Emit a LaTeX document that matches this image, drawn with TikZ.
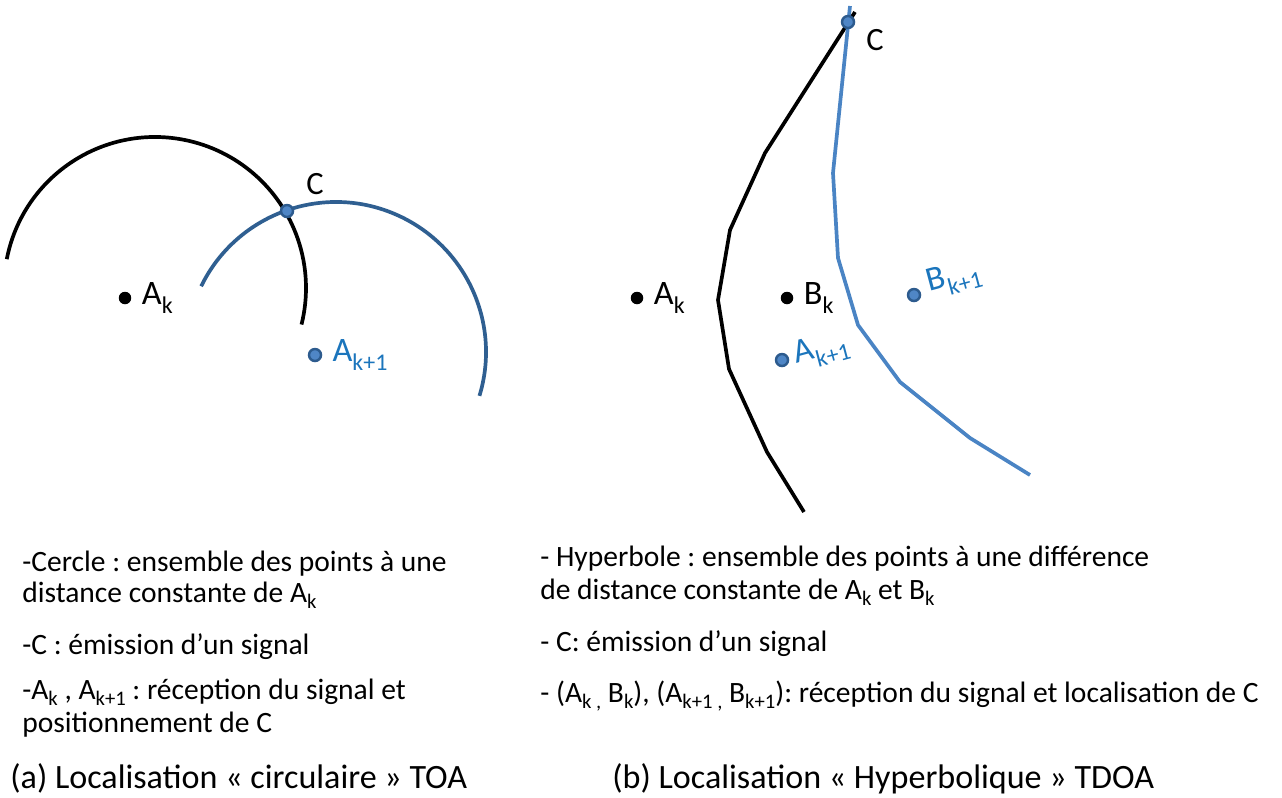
\documentclass[tikz,border=0pt]{standalone}
\usepackage{fontspec}
\setmainfont{Carlito}
\frenchspacing
\usetikzlibrary{positioning}
\definecolor{arcblue}{HTML}{2F5F91}
\definecolor{hypblue}{HTML}{4A84C4}
\definecolor{txtblue}{HTML}{1B75BC}
\definecolor{dotblue}{HTML}{2D5B8E}
\definecolor{dotlight}{HTML}{4F86C6}
\newcommand{\idx}[1]{\raisebox{-0.28em}{\scalebox{0.7}{#1}}}
\newcommand{\tidx}[1]{\raisebox{-0.22em}{\scalebox{0.7}{#1}}}
\tikzset{
  pt/.style={circle, fill=black, inner sep=0pt, minimum size=0.25cm},
  bpt/.style={circle, draw=dotblue, fill=dotlight, line width=1.4pt, inner sep=0pt, minimum size=0.24cm},
  lbl/.style={font=\fontsize{19.5}{23}\selectfont, inner sep=0pt},
  clbl/.style={font=\fontsize{18.5}{22}\selectfont, inner sep=0pt},
  txt/.style={anchor=base west, inner sep=0pt, font=\fontsize{16.8}{20}\selectfont},
  capt/.style={anchor=base west, inner sep=0pt, font=\fontsize{19.4}{23}\selectfont},
  curve/.style={line width=2.1pt}
}

\begin{document}
\begin{tikzpicture}[x=0.02cm, y=-0.02cm]
\useasboundingbox (0,0) rectangle (1282,798);

% (a) circles
\draw[curve, black] (155,288) ++(191:151) arc[start angle=191, end angle=374, radius=151];
\draw[curve, arcblue] (336,352) ++(206:150) arc[start angle=206, end angle=377, radius=150];
\node[pt] (Aka) at (125,298) {};
\node[lbl, right=0.2cm of Aka] (lAka) {A\idx{k}};
\node[bpt] (Ca) at (287,211) {};
\node[clbl] (lCa) at (315,184) {C};
\node[bpt] (Akoa) at (315,355) {};
\node[lbl, txtblue, right=0.2cm of Akoa] (lAkoa) {A\idx{k+1}};

% (b) hyperbolas
\draw[curve, black] (855,12) -- (765,153) -- (730,230) -- (718,300) -- (729,369) -- (767,452) -- (804,512);
\draw[curve, hypblue] (850,6) -- (833,173) -- (838,258) -- (858,325) -- (900,382) -- (970,438) -- (1030,475);
\node[pt] (Akb) at (637,298) {};
\node[lbl, right=0.2cm of Akb] (lAkb) {A\idx{k}};
\node[pt] (Bk) at (787,298) {};
\node[lbl, right=0.2cm of Bk] (lBk) {B\idx{k}};
\node[bpt] (Cb) at (848,22) {};
\node[clbl] (lCb) at (875,40) {C};
\node[bpt] (Akob) at (782,360) {};
\node[lbl, txtblue, rotate=15, anchor=south west] (lAkob) at (799,373) {A\idx{k+1}};
\node[bpt] (Bkob) at (914,295) {};
\node[lbl, txtblue, rotate=15, anchor=south west] (lBkob) at (932,301) {B\idx{k+1}};

% legends
\node[txt] (ta1) at (22,571) {-Cercle : ensemble des points à une};
\node[txt] (ta2) at (22,602) {distance constante de A\tidx{k}};
\node[txt] (ta3) at (22,654) {-C : émission d’un signal};
\node[txt] (ta4) at (22,699) {-A\tidx{k} , A\tidx{k+1} : réception du signal et};
\node[txt] (ta5) at (22,732) {positionnement de C};
\node[capt] (capa) at (10,788) {(a) Localisation « circulaire » TOA};

\node[txt] (tb1) at (540,566) {- Hyperbole : ensemble des points à une différence};
\node[txt] (tb2) at (540,599) {de distance constante de A\tidx{k} et B\tidx{k}};
\node[txt] (tb3) at (540,651) {- C: émission d’un signal};
\node[txt] (tb4) at (540,702) {- (A\tidx{k ,} B\tidx{k}), (A\tidx{k+1 ,} B\tidx{k+1}): réception du signal et localisation de C};
\node[capt] (capb) at (612,788) {(b) Localisation « Hyperbolique » TDOA};
\end{tikzpicture}
\end{document}
